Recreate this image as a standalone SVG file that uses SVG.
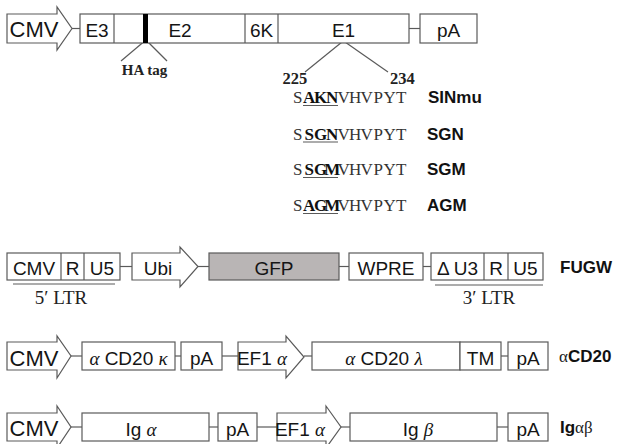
<svg xmlns="http://www.w3.org/2000/svg" width="620" height="444" viewBox="0 0 620 444">
<style>
.b{fill:#fff;stroke:#5a5a5a;stroke-width:1.2}
.g{fill:#b9b5b5;stroke:#5a5a5a;stroke-width:1.2}
.t{font-family:"Liberation Sans",Arial,sans-serif;font-size:19px;fill:#151515;text-anchor:middle}
.ta{font-family:"Liberation Sans",Arial,sans-serif;font-size:22px;fill:#151515;text-anchor:middle}
.gk{font-family:"Liberation Serif","Times New Roman",serif;font-style:italic}
.c{stroke:#5a5a5a;stroke-width:1.2;fill:none}
.sq{font-family:"Liberation Serif","Times New Roman",serif;font-size:17px;fill:#333;text-anchor:middle}
.sb{font-weight:bold;fill:#111}
.lb{font-family:"Liberation Sans",Arial,sans-serif;font-size:17px;font-weight:bold;fill:#111}
.sf{font-family:"Liberation Serif","Times New Roman",serif;fill:#222}
</style>
<g id="connectors">
<line class="c" x1="72" y1="28.5" x2="80" y2="28.5"/>
<line class="c" x1="409" y1="28.5" x2="420" y2="28.5"/>
<line class="c" x1="143.5" y1="42" x2="121" y2="61"/>
<line class="c" x1="148" y1="42" x2="167" y2="61"/>
<line class="c" x1="342" y1="42" x2="305" y2="72"/>
<line class="c" x1="345" y1="42" x2="388" y2="72"/>
<line class="c" x1="120" y1="266.5" x2="132" y2="266.5"/>
<line class="c" x1="198" y1="266.5" x2="209" y2="266.5"/>
<line class="c" x1="339" y1="266.5" x2="349" y2="266.5"/>
<line class="c" x1="423" y1="266.5" x2="431" y2="266.5"/>
<line class="c" x1="13" y1="284" x2="115" y2="284"/>
<line class="c" x1="435" y1="285" x2="543" y2="285"/>
<line class="c" x1="71" y1="356" x2="82" y2="356"/>
<line class="c" x1="175" y1="356" x2="181" y2="356"/>
<line class="c" x1="222" y1="356" x2="238" y2="356"/>
<line class="c" x1="304" y1="356" x2="312" y2="356"/>
<line class="c" x1="501" y1="356" x2="508" y2="356"/>
<line class="c" x1="71" y1="427" x2="82" y2="427"/>
<line class="c" x1="209" y1="427" x2="218" y2="427"/>
<line class="c" x1="257" y1="427" x2="277" y2="427"/>
<line class="c" x1="341" y1="427" x2="350" y2="427"/>
<line class="c" x1="497" y1="427" x2="508" y2="427"/>
</g>
<g id="row1-cmv">
<polygon class="b" points="7,14 57,14 57,7 72,28.5 57,50 57,43 7,43"/>
<text class="ta" x="34" y="37">CMV</text>
</g>
<g id="row1-genes">
<rect class="b" x="80" y="14" width="329" height="29"/>
<line class="c" x1="114" y1="14" x2="114" y2="43"/>
<line class="c" x1="245" y1="14" x2="245" y2="43"/>
<line class="c" x1="278" y1="14" x2="278" y2="43"/>
<rect x="143" y="14" width="5" height="29" fill="#000"/>
<text class="t" x="97" y="36.5">E3</text>
<text class="t" x="180" y="36.5">E2</text>
<text class="t" x="261.5" y="36.5">6K</text>
<text class="t" x="343.5" y="36.5">E1</text>
</g>
<g id="row1-pa">
<rect class="b" x="420" y="14" width="57" height="29"/>
<text class="t" x="448.5" y="36.5">pA</text>
</g>
<g id="ha-tag"><text class="sf sb" x="144.5" y="74.5" font-size="15" text-anchor="middle">HA tag</text></g>
<g id="positions">
<text class="sf sb" x="282.5" y="84" font-size="16.5">225</text>
<text class="sf sb" x="390" y="84" font-size="16.5">234</text>
</g>
<g id="seq-sinmu">
<text class="sq" x="297.7 309.2 320.7 332.2 343.7 355.2 366.7 378.2 389.7 401.2" y="103">S<tspan class="sb">AKN</tspan>VHVPYT</text>
<line class="c" x1="303" y1="105.5" x2="338" y2="105.5"/>
<text class="lb" x="428" y="103">SINmu</text>
</g>
<g id="seq-sgn">
<text class="sq" x="297.7 309.2 320.7 332.2 343.7 355.2 366.7 378.2 389.7 401.2" y="139.5">S<tspan class="sb">SGN</tspan>VHVPYT</text>
<line class="c" x1="303" y1="142" x2="338" y2="142"/>
<text class="lb" x="427" y="139.5">SGN</text>
</g>
<g id="seq-sgm">
<text class="sq" x="297.7 309.2 320.7 332.2 343.7 355.2 366.7 378.2 389.7 401.2" y="175">S<tspan class="sb">SGM</tspan>VHVPYT</text>
<line class="c" x1="303" y1="177.5" x2="338" y2="177.5"/>
<text class="lb" x="427" y="175">SGM</text>
</g>
<g id="seq-agm">
<text class="sq" x="297.7 309.2 320.7 332.2 343.7 355.2 366.7 378.2 389.7 401.2" y="211">S<tspan class="sb">AGM</tspan>VHVPYT</text>
<line class="c" x1="303" y1="213.5" x2="338" y2="213.5"/>
<text class="lb" x="427" y="211">AGM</text>
</g>
<g id="ltr5">
<rect class="b" x="7" y="253" width="113" height="27"/>
<line class="c" x1="61" y1="253" x2="61" y2="280"/>
<line class="c" x1="84" y1="253" x2="84" y2="280"/>
<text class="t" x="34" y="274.5">CMV</text>
<text class="t" x="72.5" y="274.5">R</text>
<text class="t" x="102" y="274.5">U5</text>
<text class="sf" x="61" y="304" font-size="19" text-anchor="middle">5′ LTR</text>
</g>
<g id="ubi">
<polygon class="b" points="132,253 180,253 180,247 198,266.5 180,287 180,280 132,280"/>
<text class="t" x="158" y="274.5">Ubi</text>
</g>
<g id="gfp">
<rect class="g" x="209" y="253" width="130" height="27"/>
<text class="t" x="274" y="274.5">GFP</text>
</g>
<g id="wpre">
<rect class="b" x="349" y="253" width="74" height="27"/>
<text class="t" x="386" y="274.5">WPRE</text>
</g>
<g id="ltr3">
<rect class="b" x="431" y="253" width="112" height="27"/>
<line class="c" x1="484" y1="253" x2="484" y2="280"/>
<line class="c" x1="508" y1="253" x2="508" y2="280"/>
<text class="t" x="457.5" y="274.5">Δ U3</text>
<text class="t" x="496" y="274.5">R</text>
<text class="t" x="525.5" y="274.5">U5</text>
<text class="sf" x="489" y="304" font-size="19" text-anchor="middle">3′ LTR</text>
</g>
<g id="fugw"><text class="lb" x="560" y="273">FUGW</text></g>
<g id="row3-cmv">
<polygon class="b" points="7,342 57,342 57,336 71,356 57,378 57,370 7,370"/>
<text class="ta" x="34" y="366">CMV</text>
</g>
<g id="acd20k">
<rect class="b" x="82" y="342" width="93" height="28"/>
<text class="t" x="128.5" y="364.5"><tspan class="gk">α</tspan> CD20 <tspan class="gk">κ</tspan></text>
</g>
<g id="row3-pa1">
<rect class="b" x="181" y="342" width="41" height="28"/>
<text class="t" x="201.5" y="364.5">pA</text>
</g>
<g id="row3-ef1a">
<polygon class="b" points="238,342 286,342 286,336 304,357 286,378 286,370 238,370"/>
<text class="t" x="262" y="364.5">EF1 <tspan class="gk">α</tspan></text>
</g>
<g id="acd20l">
<rect class="b" x="312" y="342" width="148" height="28"/>
<rect class="b" x="460" y="342" width="41" height="28"/>
<text class="t" x="384" y="364.5"><tspan class="gk">α</tspan> CD20 <tspan class="gk">λ</tspan></text>
<text class="t" x="480.5" y="364.5">TM</text>
</g>
<g id="row3-pa2">
<rect class="b" x="508" y="342" width="40" height="28"/>
<text class="t" x="528" y="364.5">pA</text>
</g>
<g id="acd20-label"><text class="lb" x="559" y="362"><tspan class="sf" font-weight="normal">α</tspan>CD20</text></g>
<g id="row4-cmv">
<polygon class="b" points="7,413 57,413 57,406 71,427 57,448 57,441 7,441"/>
<text class="ta" x="34" y="436">CMV</text>
</g>
<g id="iga">
<rect class="b" x="82" y="413" width="127" height="28"/>
<text class="t" x="141" y="435.5">Ig <tspan class="gk">α</tspan></text>
</g>
<g id="row4-pa1">
<rect class="b" x="218" y="413" width="39" height="28"/>
<text class="t" x="237.5" y="435.5">pA</text>
</g>
<g id="row4-ef1a">
<polygon class="b" points="277,413 326,413 326,406 341,427 326,448 326,441 277,441"/>
<text class="t" x="300" y="435.5">EF1 <tspan class="gk">α</tspan></text>
</g>
<g id="igb">
<rect class="b" x="350" y="413" width="147" height="28"/>
<text class="t" x="418" y="435.5">Ig <tspan class="gk">β</tspan></text>
</g>
<g id="row4-pa2">
<rect class="b" x="508" y="413" width="40" height="28"/>
<text class="t" x="528" y="435.5">pA</text>
</g>
<g id="igab-label"><text class="lb" x="560" y="433">Ig<tspan class="sf" font-weight="normal">αβ</tspan></text></g>
</svg>
